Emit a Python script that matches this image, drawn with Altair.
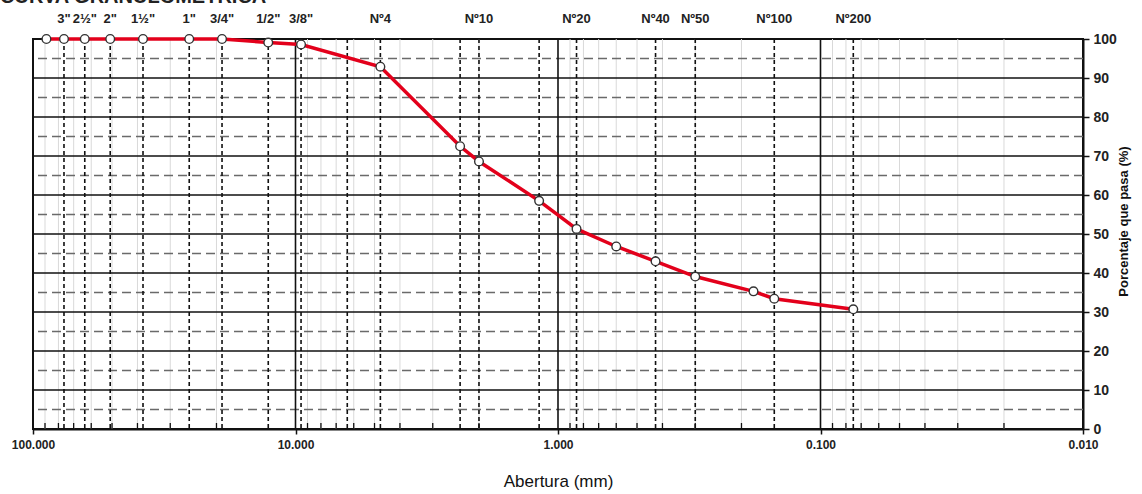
import altair as alt
import pandas as pd

# Sieve openings (mm) and percent passing
sizes_mm = [88.9, 76.2, 63.5, 50.8, 38.1, 25.4, 19.05, 12.7, 9.525, 4.75,
            2.36, 2.0, 1.18, 0.85, 0.6, 0.425, 0.3, 0.18, 0.15, 0.075]
passing = [100, 100, 100, 100, 100, 100, 100, 99.1, 98.6, 92.9,
           72.5, 68.6, 58.5, 51.3, 46.8, 43.0, 39.1, 35.3, 33.4, 30.7]

# Sieve names printed above the plot
sieve_names = ['3"', '2½"', '2"', '1½"', '1"', '3/4"', '1/2"', '3/8"',
               'Nº4', 'Nº10', 'Nº20', 'Nº40', 'Nº50', 'Nº100', 'Nº200']
sieve_mm = [76.2, 63.5, 50.8, 38.1, 25.4, 19.05, 12.7, 9.525,
            4.75, 2.0, 0.85, 0.425, 0.3, 0.15, 0.075]

# Dashed reference lines at standard sieve openings
dashed_mm = [76.2, 63.5, 50.8, 38.1, 25.4, 19.05, 12.7, 9.525, 6.35, 4.75,
             2.36, 2.0, 1.18, 0.85, 0.425, 0.3, 0.15, 0.075]

decades = [100, 10, 1, 0.1, 0.01]
inner_decades = [10, 1, 0.1]
minor_mm = [m * d for d in [10, 1, 0.1, 0.01] for m in range(2, 10)]
major_pct = [10, 20, 30, 40, 50, 60, 70, 80, 90]
half_pct = [5, 15, 25, 35, 45, 55, 65, 75, 85, 95]
pct_ticks = [0, 10, 20, 30, 40, 50, 60, 70, 80, 90, 100]

W, H = 1050, 390
FONT = "Liberation Sans"

xscale = alt.Scale(type="log", domain=[0.01, 100], reverse=True, nice=False)
yscale = alt.Scale(domain=[0, 100], nice=False)

xaxis = alt.Axis(
    values=decades,
    format=".3f",
    title="Abertura (mm)",
    titleFont=FONT,
    titleFontSize=17,
    titleFontWeight="normal",
    titleColor="#111111",
    titlePadding=23,
    labelFont=FONT,
    labelFontSize=12,
    labelFontWeight="bold",
    labelColor="#222222",
    labelPadding=5,
    tickSize=5,
    tickColor="#111111",
    tickWidth=1.5,
    domainColor="#111111",
    domainWidth=2,
    grid=False,
    labelFlush=False,
)

yaxis = alt.Axis(
    orient="right",
    values=pct_ticks,
    title="Porcentaje que pasa (%)",
    titleFont=FONT,
    titleFontSize=13,
    titleFontWeight="bold",
    titleColor="#111111",
    titleAngle=270,
    titlePadding=14,
    titleY=182,
    labelFont=FONT,
    labelFontSize=14,
    labelFontWeight="bold",
    labelColor="#222222",
    labelPadding=4,
    tickSize=6,
    tickColor="#111111",
    tickWidth=1.5,
    domainColor="#111111",
    domainWidth=2,
    grid=False,
)


def X(field):
    return alt.X(field, type="quantitative", scale=xscale, axis=xaxis)


def Y(field):
    return alt.Y(field, type="quantitative", scale=yscale, axis=yaxis)


curve = pd.DataFrame({"mm": sizes_mm, "pct": passing})

minor_grid = alt.Chart(pd.DataFrame({"mm": minor_mm})).mark_rule(
    color="#d9d9d9", strokeWidth=1
).encode(x=X("mm"))

half_lines = alt.Chart(pd.DataFrame({"pct": half_pct})).mark_rule(
    color="#6a6a6a", strokeWidth=1.3, strokeDash=[9, 5]
).encode(y=Y("pct"))

major_lines = alt.Chart(pd.DataFrame({"pct": major_pct})).mark_rule(
    color="#111111", strokeWidth=1.6
).encode(y=Y("pct"))

decade_lines = alt.Chart(pd.DataFrame({"mm": inner_decades})).mark_rule(
    color="#111111", strokeWidth=1.6
).encode(x=X("mm"))

sieve_lines = alt.Chart(pd.DataFrame({"mm": dashed_mm})).mark_rule(
    color="#111111", strokeWidth=1.6, strokeDash=[4, 3]
).encode(x=X("mm"))

minor_ticks = alt.Chart(pd.DataFrame({"mm": minor_mm})).mark_rule(
    color="#111111", strokeWidth=1.3
).encode(x=X("mm"), y=alt.value(H - 6), y2=alt.value(H))

line = alt.Chart(curve).mark_line(color="#e3001b", strokeWidth=3.5).encode(
    x=X("mm"), y=Y("pct")
)

points = alt.Chart(curve).mark_point(
    shape="circle", filled=True, fill="white", stroke="#333333",
    strokeWidth=1.4, size=75, opacity=1
).encode(x=X("mm"), y=Y("pct"))

top_labels = alt.Chart(
    pd.DataFrame({"mm": sieve_mm, "name": sieve_names})
).mark_text(
    font=FONT, fontSize=13, fontWeight="bold", color="#222222",
    baseline="alphabetic", align="center"
).encode(x=X("mm"), y=alt.value(-16), text="name:N")

title = alt.Chart(pd.DataFrame({"t": ["CURVA GRANULOMETRICA"]})).mark_text(
    font=FONT, fontSize=20, fontWeight="bold", color="#222222",
    baseline="alphabetic", align="left"
).encode(x=alt.value(-33), y=alt.value(-36), text="t:N")

chart = alt.layer(
    minor_grid, half_lines, major_lines, decade_lines, sieve_lines,
    minor_ticks, line, points, top_labels, title
).properties(
    width=W,
    height=H,
    background="white",
    autosize=alt.AutoSizeParams(type="none"),
    padding={"left": 33, "top": 39, "right": 59, "bottom": 65},
).configure_view(
    stroke="#111111", strokeWidth=2
)

chart.save("out.html", embed_options={"renderer": "svg", "actions": False})
